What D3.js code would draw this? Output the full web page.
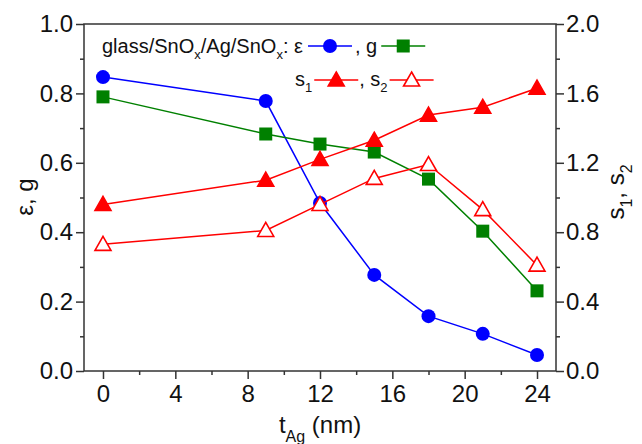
<!DOCTYPE html>
<html>
<head>
<meta charset="utf-8">
<script src="https://cdn.jsdelivr.net/npm/d3@7"></script>
<style>
  body { margin: 0; background: #fff; }
  svg { font-family: "Liberation Sans", Arial, sans-serif; }
</style>
</head>
<body>
<div id="chart"></div>
<script>
const thickness = [0, 9, 12, 15, 18, 21, 24];
const epsValues = [0.847, 0.778, 0.484, 0.277, 0.158, 0.107, 0.046];
const gValues = [0.790, 0.683, 0.654, 0.631, 0.553, 0.403, 0.231];
const s1Values = [0.96, 1.10, 1.22, 1.33, 1.475, 1.52, 1.63];
const s2Values = [0.73, 0.81, 0.96, 1.11, 1.19, 0.93, 0.61];
const xTicks = [0, 4, 8, 12, 16, 20, 24];
const yLeftTicks = [0, 0.2, 0.4, 0.6, 0.8, 1.0];
const yRightTicks = [0, 0.4, 0.8, 1.2, 1.6, 2.0];

const width = 642, height = 444;
const plotL = 84, plotR = 556, plotT = 24, plotB = 371;

const svg = d3.select("#chart").append("svg")
  .attr("width", width).attr("height", height);

const x = d3.scaleLinear().domain([-1.05, 25.05]).range([plotL, plotR]);
const yL = d3.scaleLinear().domain([0, 1]).range([plotB, plotT]);
const yR = d3.scaleLinear().domain([0, 2]).range([plotB, plotT]);

const axisColor = "#333";
const tickFont = 24;

// frame
svg.append("rect")
  .attr("x", plotL).attr("y", plotT)
  .attr("width", plotR - plotL).attr("height", plotB - plotT)
  .attr("fill", "none").attr("stroke", axisColor).attr("stroke-width", 1.5);

function styleAxis(g) {
  g.select(".domain").remove();
  g.selectAll("line").attr("stroke", axisColor).attr("stroke-width", 1.5);
  g.selectAll("text").attr("font-size", tickFont).attr("fill", "#111")
    .attr("font-family", "Liberation Sans, Arial, sans-serif");
}

// minor ticks
const xMinor = d3.range(2, 25, 4);
const yLMinor = d3.range(0.1, 1, 0.2);
const yRMinor = d3.range(0.2, 2, 0.4);

svg.append("g").attr("transform", `translate(0,${plotB})`)
  .call(d3.axisBottom(x).tickValues(xMinor).tickSize(4).tickFormat(""))
  .call(styleAxis);
svg.append("g").attr("transform", `translate(${plotL},0)`)
  .call(d3.axisLeft(yL).tickValues(yLMinor).tickSize(4).tickFormat(""))
  .call(styleAxis);
svg.append("g").attr("transform", `translate(${plotR},0)`)
  .call(d3.axisRight(yR).tickValues(yRMinor).tickSize(4).tickFormat(""))
  .call(styleAxis);

// major ticks
svg.append("g").attr("transform", `translate(0,${plotB})`)
  .call(d3.axisBottom(x).tickValues(xTicks).tickSize(8).tickPadding(6).tickFormat(d3.format("d")))
  .call(styleAxis);
svg.append("g").attr("transform", `translate(${plotL},0)`)
  .call(d3.axisLeft(yL).tickValues(yLeftTicks).tickSize(8).tickPadding(3).tickFormat(d3.format(".1f")))
  .call(styleAxis);
svg.append("g").attr("transform", `translate(${plotR},0)`)
  .call(d3.axisRight(yR).tickValues(yRightTicks).tickSize(8).tickPadding(2).tickFormat(d3.format(".1f")))
  .call(styleAxis);

// axis titles
const xt = svg.append("text").attr("x", 320).attr("y", 433)
  .attr("text-anchor", "middle").attr("font-size", 24).attr("fill", "#111");
xt.append("tspan").text("t");
xt.append("tspan").attr("font-size", 16).attr("dy", 9).text("Ag");
xt.append("tspan").attr("dy", -9).text(" (nm)");

svg.append("text")
  .attr("transform", `translate(33,197) rotate(-90)`)
  .attr("text-anchor", "middle").attr("font-size", 24).attr("fill", "#111")
  .text("ε, g");

const rt = svg.append("text")
  .attr("transform", `translate(624,192) rotate(-90)`)
  .attr("text-anchor", "middle").attr("font-size", 24).attr("fill", "#111");
rt.append("tspan").text("s");
rt.append("tspan").attr("font-size", 16).attr("dy", 8).text("1");
rt.append("tspan").attr("dy", -8).text(", s");
rt.append("tspan").attr("font-size", 16).attr("dy", 8).text("2");

// series
const series = [
  { values: epsValues, y: yL, color: "#0000ff", shape: "circle", fill: "#0000ff" },
  { values: gValues, y: yL, color: "#008000", shape: "square", fill: "#008000" },
  { values: s1Values, y: yR, color: "#ff0000", shape: "triangle", fill: "#ff0000" },
  { values: s2Values, y: yR, color: "#ff0000", shape: "triangle", fill: "#ffffff" }
];

function drawMarker(g, s, cx, cy) {
  if (s.shape === "circle") {
    g.append("circle").attr("cx", cx).attr("cy", cy).attr("r", 7)
      .attr("fill", s.fill);
  } else if (s.shape === "square") {
    g.append("rect").attr("x", cx - 6.5).attr("y", cy - 6.5)
      .attr("width", 13).attr("height", 13).attr("fill", s.fill);
  } else {
    const h = 14, w = 16;
    g.append("path")
      .attr("d", `M${cx},${cy - h / 2 - 1}L${cx + w / 2},${cy + h / 2 - 1}L${cx - w / 2},${cy + h / 2 - 1}Z`)
      .attr("fill", s.fill).attr("stroke", s.color).attr("stroke-width", 1.6)
      .attr("stroke-linejoin", "miter");
  }
}

for (const s of series) {
  const g = svg.append("g");
  const line = d3.line().x((d, i) => x(thickness[i])).y(d => s.y(d));
  g.append("path").datum(s.values).attr("d", line)
    .attr("fill", "none").attr("stroke", s.color).attr("stroke-width", 1.5);
  s.values.forEach((v, i) => drawMarker(g, s, x(thickness[i]), s.y(v)));
}

// legend
function legendSample(s, x0, y0) {
  const g = svg.append("g");
  g.append("line").attr("x1", x0).attr("x2", x0 + 44).attr("y1", y0).attr("y2", y0)
    .attr("stroke", s.color).attr("stroke-width", 1.5);
  drawMarker(g, s, x0 + 22, y0);
  return x0 + 44;
}

function legendText(x0, y0, parts) {
  const t = svg.append("text").attr("x", x0).attr("y", y0)
    .attr("font-size", 20).attr("fill", "#111");
  for (const p of parts) {
    if (p.sub) t.append("tspan").attr("font-size", 13).attr("dy", 6).text(p.text);
    else t.append("tspan").attr("dy", p.after ? -6 : 0).text(p.text);
  }
  const b = t.node().getBBox();
  return b.x + b.width;
}

let lx = legendText(102, 53, [
  { text: "glass/SnO" }, { text: "x", sub: true }, { text: "/Ag/SnO", after: true },
  { text: "x", sub: true }, { text: ": ε", after: true }
]);
lx = legendSample(series[0], lx + 5, 46);
lx = legendText(lx + 3, 53, [{ text: ", g" }]);
legendSample(series[1], lx + 4, 46);

lx = legendText(295, 86, [{ text: "s" }, { text: "1", sub: true }]);
lx = legendSample(series[2], lx + 2, 80);
lx = legendText(lx + 1, 86, [{ text: ", s" }, { text: "2", sub: true }]);
legendSample(series[3], lx + 2, 80);
</script>
</body>
</html>
